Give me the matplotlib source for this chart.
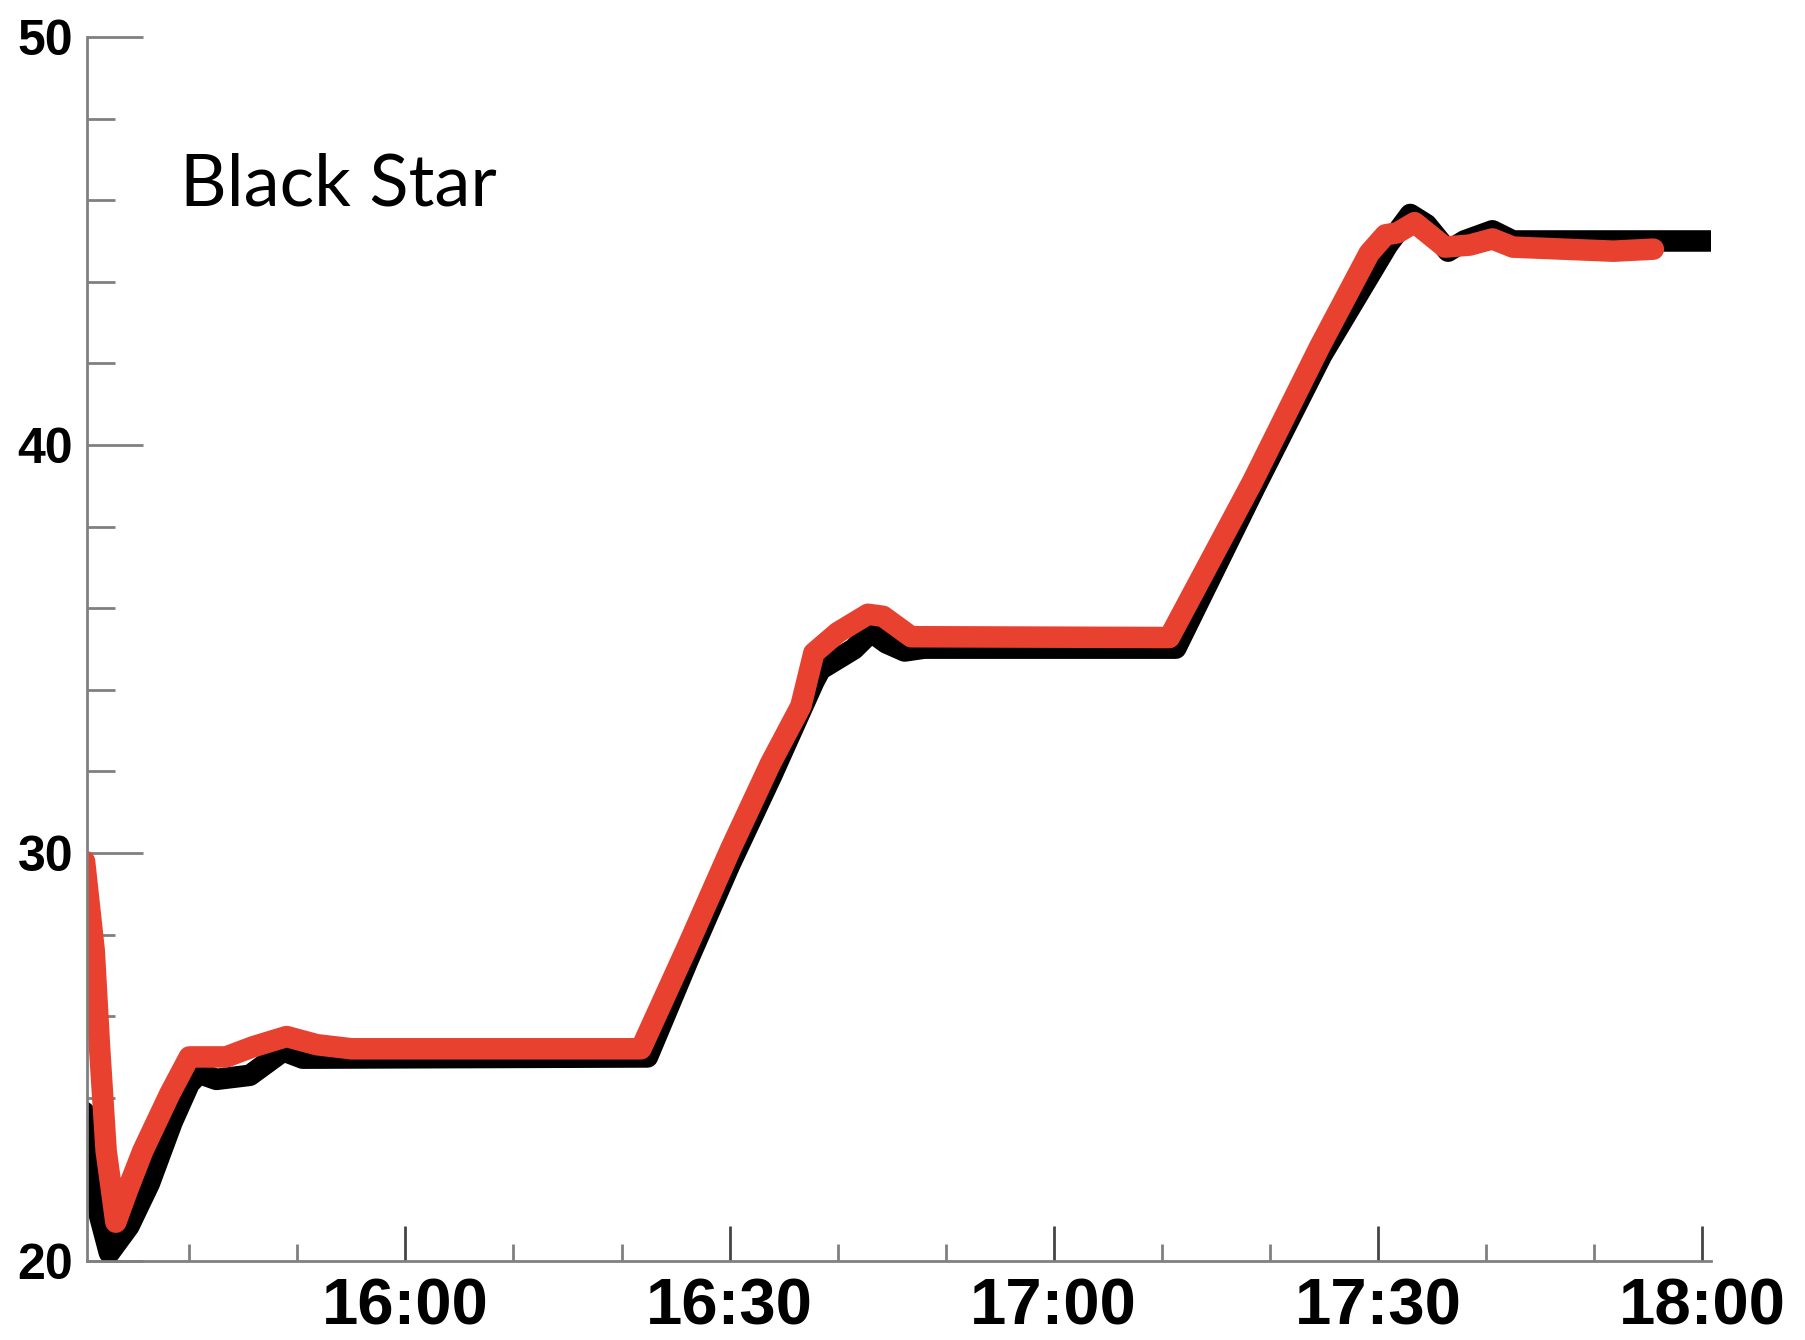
import pandas as pd
import matplotlib
matplotlib.use('Agg')
import matplotlib.pyplot as plt
import matplotlib.dates as mdates

# --- data (time of day, value) ---
black_times = ['15:30:15', '15:31:00', '15:31:42', '15:32:36', '15:34:24', '15:36:18',
               '15:38:24', '15:40:00', '15:40:54', '15:42:30', '15:45:36', '15:48:42',
               '15:50:30', '16:22:24', '16:26:12', '16:30:00', '16:33:54', '16:37:48',
               '16:38:24', '16:41:30', '16:43:06', '16:44:30', '16:46:12', '16:48:00',
               '17:11:18', '17:18:36', '17:24:48', '17:30:54', '17:33:00', '17:34:30',
               '17:36:30', '17:38:00', '17:40:36', '17:42:30', '18:00:48']
black_vals = [23.65, 22.7, 21.1, 20.2, 20.85, 21.9,
              23.4, 24.35, 24.6, 24.45, 24.55, 25.15,
              24.97, 25.0, 27.4, 29.7, 31.9, 34.2,
              34.5, 35.0, 35.42, 35.15, 34.95, 35.02,
              35.02, 38.95, 42.2, 44.9, 45.65, 45.4,
              44.75, 45.0, 45.25, 45.0, 45.0]

red_times = ['15:30:18', '15:31:12', '15:31:42', '15:32:18', '15:33:12', '15:34:18',
             '15:35:42', '15:38:12', '15:40:00', '15:43:24', '15:45:54', '15:49:00',
             '15:51:48', '15:55:00', '16:21:48', '16:26:06', '16:30:06', '16:33:48',
             '16:36:36', '16:37:48', '16:40:00', '16:42:48', '16:44:12', '16:46:48',
             '17:10:42', '17:18:24', '17:24:36', '17:29:12', '17:30:42', '17:31:48',
             '17:33:24', '17:36:12', '17:38:30', '17:40:36', '17:42:30', '17:51:48',
             '17:55:30']
red_vals = [29.8, 27.6, 25.2, 22.7, 20.95, 21.75,
            22.7, 24.1, 25.0, 25.0, 25.25, 25.5,
            25.3, 25.2, 25.2, 27.7, 30.1, 32.2,
            33.6, 34.9, 35.4, 35.85, 35.8, 35.3,
            35.28, 39.1, 42.4, 44.7, 45.15, 45.2,
            45.45, 44.85, 44.9, 45.05, 44.85, 44.75,
            44.8]

x_ticks = ['16:00', '16:30', '17:00', '17:30', '18:00']
y_ticks = [20, 30, 40, 50]
label = 'Black Star'

day = '2020-01-01 '
bt = pd.to_datetime([day + t for t in black_times])
rt = pd.to_datetime([day + t for t in red_times])

fig = plt.figure(figsize=(18.06, 13.40), dpi=100)
ax = fig.add_axes([0.0482, 0.059, 0.8992, 0.9134])

ax.plot(bt, black_vals, color='black', lw=15.5, solid_capstyle='round', solid_joinstyle='round')
ax.plot(rt, red_vals, color='#e8412f', lw=15.5, solid_capstyle='round', solid_joinstyle='round')

ax.set_xlim(pd.Timestamp(day + '15:30:32'), pd.Timestamp(day + '18:00:50'))
ax.set_ylim(20, 50)

ax.set_xticks(pd.to_datetime([day + t for t in x_ticks]))
ax.xaxis.set_major_formatter(mdates.DateFormatter('%H:%M'))
ax.xaxis.set_minor_locator(mdates.MinuteLocator(byminute=range(0, 60, 10)))
ax.set_yticks(y_ticks)
ax.set_yticks(range(20, 51, 2), minor=True)

for s in ['top', 'right']:
    ax.spines[s].set_visible(False)
for s in ['left', 'bottom']:
    ax.spines[s].set_color('#808080')
    ax.spines[s].set_linewidth(2)

ax.tick_params(axis='x', which='major', direction='in', length=25, width=2, color='#444444', pad=12)
ax.tick_params(axis='x', which='minor', direction='in', length=12, width=2, color='#808080')
ax.tick_params(axis='y', which='major', direction='in', length=40, width=2, color='#808080', pad=10)
ax.tick_params(axis='y', which='minor', direction='in', length=20, width=2, color='#808080')

for t in ax.get_xticklabels():
    t.set_fontfamily('Liberation Sans')
    t.set_fontweight('bold')
    t.set_fontsize(47)
for t in ax.get_yticklabels():
    t.set_fontfamily('Liberation Sans')
    t.set_fontweight('bold')
    t.set_fontsize(36)

fig.text(0.0997, 0.847, label, fontfamily='Lato', fontsize=52, va='baseline', ha='left')

fig.savefig('out.png', dpi=100)
